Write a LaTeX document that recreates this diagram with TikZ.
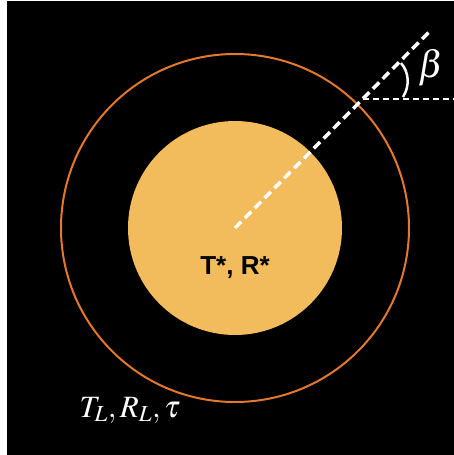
\documentclass[tikz,border=0pt]{standalone}
\usepackage{mathptmx}
\usepackage{fontspec}
\setsansfont{Liberation Sans}

\definecolor{corefill}{HTML}{F2BB5B}
\definecolor{layerline}{HTML}{E4782B}

\tikzset{
  ray/.style={white, line width=3.5pt, dash pattern=on 9pt off 5pt},
  refline/.style={white, line width=2pt, dash pattern=on 6pt off 4pt},
}

\begin{document}
\begin{tikzpicture}[x=1pt, y=-1pt]
    \useasboundingbox (0,0) rectangle (454,455);
    \fill[black] (7,1) rectangle (454,455);

    % outer layer and core
    \node[circle, draw=layerline, line width=2pt, minimum size=348pt, inner sep=0pt] (layer) at (235,228) {};
    \node[circle, fill=corefill, minimum size=214pt, inner sep=0pt] (core) at (235,228) {};

    % ray from the centre and the horizontal reference
    \coordinate (c) at (235,228);
    \coordinate (tip) at (430,31);
    \coordinate (p) at (363,99);
    \coordinate (east) at (454,99);
    \draw[ray] (c) -- (tip);
    \draw[refline] (p) -- (east);

    % angle mark
    \draw[white, line width=2.5pt] (403,97) .. controls (410,86) and (409,72) .. (401,63);
    \node[white] (beta) at (431,68) {\fontsize{38}{38}\selectfont $\beta$};

    \node[black, font=\sffamily\bfseries\fontsize{26}{26}\selectfont] (corelbl) at (235,268) {T*, R*};
    \node[white] (layerlbl) at (130,410) {\fontsize{31}{31}\selectfont $T_L, R_L, \tau$};
\end{tikzpicture}
\end{document}
